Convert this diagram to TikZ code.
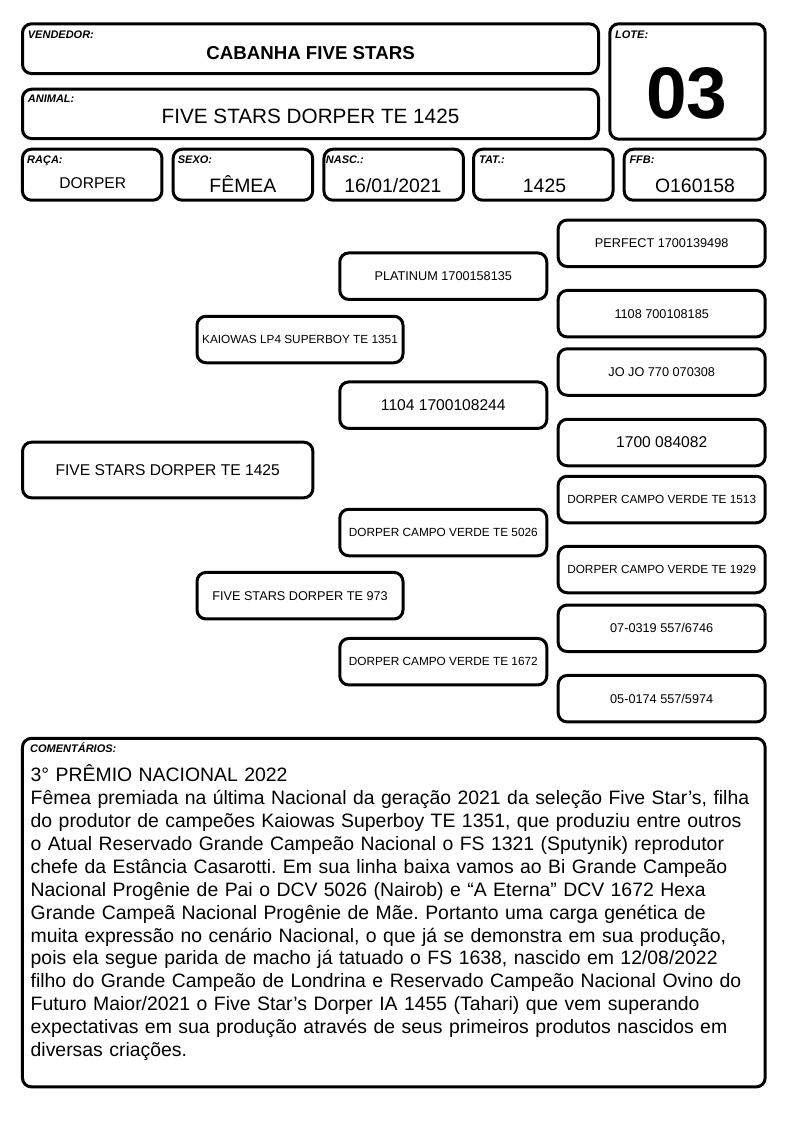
\documentclass[tikz,border=0pt]{standalone}
\usepackage{fontspec}
\setmainfont{Liberation Sans}
\usetikzlibrary{positioning}
\frenchspacing

\begin{document}
\begin{tikzpicture}[x=1pt,y=-1pt,
  box/.style={draw,line width=3pt,rounded corners=9pt,inner sep=0pt},
  tag/.style={anchor=base west,inner sep=0pt,font=\fontsize{11}{12}\selectfont\bfseries\itshape},
  val/.style={anchor=base,inner sep=0pt,font=\fontsize{19.4}{22}\selectfont},
  infobox/.style={box,minimum width=139.5pt,minimum height=51pt},
  pedbox/.style={box,minimum width=207pt,minimum height=46.5pt},
  fa/.style={font=\fontsize{11.8}{13}\selectfont},
  fb/.style={font=\fontsize{12.7}{14}\selectfont},
  fc/.style={font=\fontsize{15.6}{17}\selectfont}]
\path[use as bounding box,fill=white] (0,0) rectangle (794,1123);

% header
\node[box,minimum width=576pt,minimum height=49.7pt] (vendedor) at (310.5,48.7) {};
\node[tag] at (27.7,39) {VENDEDOR:};
\node[val,font=\fontsize{18.7}{22}\selectfont\bfseries] (vendedorval) at (310.5,60) {CABANHA FIVE STARS};
\node[box,minimum width=576pt,minimum height=49.3pt] (animal) at (310.5,113.9) {};
\node[tag] at (27.7,102.7) {ANIMAL:};
\node[val,font=\fontsize{20.7}{24}\selectfont] (animalval) at (310.5,123.3) {FIVE STARS DORPER TE 1425};
\node[box,minimum width=155.4pt,minimum height=115.4pt] (lote) at (687.5,81.5) {};
\node[tag] at (615,39) {LOTE:};
\node[val,font=\fontsize{73}{80}\selectfont\bfseries] (loteval) at (687,118.3) {03};

% dados
\node[infobox] (raca) at (92.2,174.7) {};
\node[tag] at (27,163.3) {RAÇA:};
\node[val,font=\fontsize{15.6}{18}\selectfont] at (92.8,188.3) {DORPER};
\node[infobox] (sexo) at (242.9,174.7) {};
\node[tag] at (177.7,163.3) {SEXO:};
\node[val] at (242.9,192.5) {FÊMEA};
\node[infobox] (nasc) at (393.7,174.7) {};
\node[tag] at (325.7,163.3) {NASC.:};
\node[val] at (393,192.2) {16/01/2021};
\node[infobox] (tat) at (543.3,174.7) {};
\node[tag] at (479,163.3) {TAT.:};
\node[val] at (544.5,192.2) {1425};
\node[infobox,minimum width=141pt] (ffb) at (694.7,174.7) {};
\node[tag] at (629.3,163.3) {FFB:};
\node[val] at (695,192.2) {O160158};

% genealogia
\node[box,fc,minimum width=290.3pt,minimum height=55.6pt] (animalped) at (167.7,470) {FIVE STARS DORPER TE 1425};
\node[pedbox,fa,minimum width=206pt] (pai) at (300,339.5) {KAIOWAS LP4 SUPERBOY TE 1351};
\node[pedbox,fb,minimum width=206pt] (mae) at (300,595.7) {FIVE STARS DORPER TE 973};
\node[pedbox,fb] (avopp) at (443.3,276.2) {PLATINUM 1700158135};
\node[pedbox,fc] (avopm) at (443.3,405.2) {1104 1700108244};
\node[pedbox,fa] (avomp) at (443.3,532.5) {DORPER CAMPO VERDE TE 5026};
\node[pedbox,fa] (avomm) at (443.3,661.7) {DORPER CAMPO VERDE TE 1672};
\node[pedbox,fb] (bis1) at (661.7,243.3) {PERFECT 1700139498};
\node[pedbox,fb] (bis2) at (661.7,313.7) {1108 700108185};
\node[pedbox,fb] (bis3) at (661.7,372) {JO JO 770 070308};
\node[pedbox,fc] (bis4) at (661.7,442.5) {1700 084082};
\node[pedbox,fa] (bis5) at (661.7,499.5) {DORPER CAMPO VERDE TE 1513};
\node[pedbox,fa] (bis6) at (661.7,569.5) {DORPER CAMPO VERDE TE 1929};
\node[pedbox,fb] (bis7) at (661.7,628.3) {07-0319 557/6746};
\node[pedbox,fb] (bis8) at (661.7,698.7) {05-0174 557/5974};

% comentarios
\node[box,minimum width=742.7pt,minimum height=348.6pt] (comentarios) at (393.8,912.6) {};
\node[tag] at (30,752.7) {COMENTÁRIOS:};
\node[anchor=base west,inner sep=0pt,text width=735pt,align=left,
  font=\fontsize{19.4}{22.9}\selectfont] (texto) at (30.5,781.7)
  {3° PRÊMIO NACIONAL 2022\\
   Fêmea premiada na última Nacional da geração 2021 da seleção Five Star’s, filha\\
   do produtor de campeões Kaiowas Superboy TE 1351, que produziu entre outros\\
   o Atual Reservado Grande Campeão Nacional o FS 1321 (Sputynik) reprodutor\\
   chefe da Estância Casarotti. Em sua linha baixa vamos ao Bi Grande Campeão\\
   Nacional Progênie de Pai o DCV 5026 (Nairob) e “A Eterna” DCV 1672 Hexa\\
   Grande Campeã Nacional Progênie de Mãe. Portanto uma carga genética de\\
   muita expressão no cenário Nacional, o que já se demonstra em sua produção,\\
   pois ela segue parida de macho já tatuado o FS 1638, nascido em 12/08/2022\\
   filho do Grande Campeão de Londrina e Reservado Campeão Nacional Ovino do\\
   Futuro Maior/2021 o Five Star’s Dorper IA 1455 (Tahari) que vem superando\\
   expectativas em sua produção através de seus primeiros produtos nascidos em\\
   diversas criações.};
\end{tikzpicture}
\end{document}
